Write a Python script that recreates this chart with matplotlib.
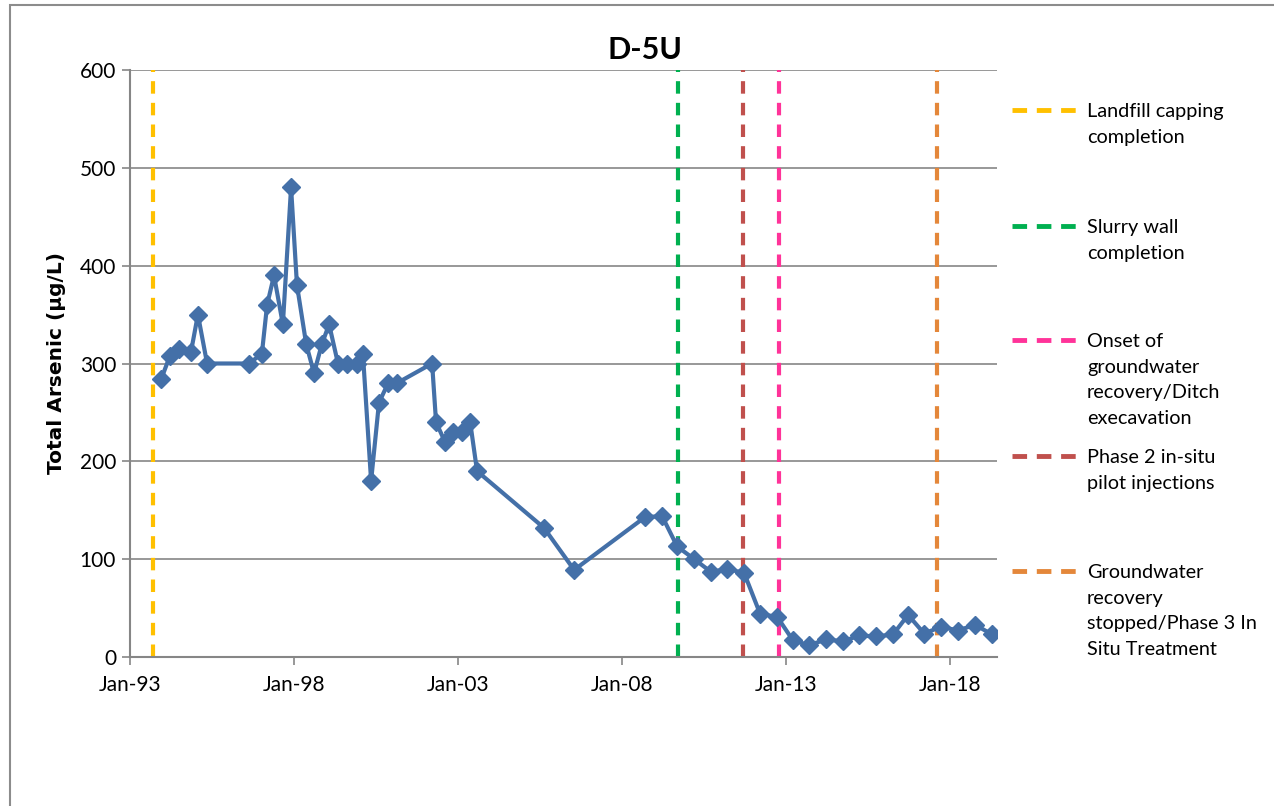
import matplotlib
matplotlib.use("Agg")
import matplotlib.pyplot as plt
from matplotlib.patches import Rectangle

# data (decimal year, total arsenic ug/L)
sample_years = [1993.95, 1994.22, 1994.49, 1994.86, 1995.07, 1995.35, 1996.63,
                1997.02, 1997.18, 1997.39, 1997.66, 1997.91, 1998.09, 1998.37,
                1998.61, 1998.85, 1999.07, 1999.34, 1999.62, 1999.92, 2000.10,
                2000.35, 2000.59, 2000.87, 2001.14, 2002.21, 2002.33, 2002.60,
                2002.85, 2003.12, 2003.37, 2003.58, 2005.62, 2006.54, 2008.70,
                2009.22, 2009.68, 2010.20, 2010.71, 2011.20, 2011.72, 2012.21,
                2012.73, 2013.21, 2013.70, 2014.22, 2014.74, 2015.23, 2015.74,
                2016.26, 2016.72, 2017.21, 2017.73, 2018.24, 2018.76, 2019.28]
arsenic = [284, 308, 315, 312, 350, 300, 300,
           310, 360, 390, 340, 480, 380, 320,
           290, 320, 340, 300, 300, 300, 310,
           180, 260, 280, 280, 300, 240, 220,
           230, 230, 240, 190, 132, 89, 143,
           144, 113, 100, 87, 90, 86, 44,
           41, 17, 12, 18, 16, 22,
           21, 23, 43, 24, 31, 27, 33, 23]

# events in time order
event_years = [1993.70, 2009.71, 2011.69, 2012.79, 2017.60]
event_labels = ["Landfill capping\ncompletion",
                "Slurry wall\ncompletion",
                "Phase 2 in-situ\npilot injections",
                "Onset of\ngroundwater\nrecovery/Ditch\nexecavation",
                "Groundwater\nrecovery\nstopped/Phase 3 In\nSitu Treatment"]
event_colors = ["#FFC000", "#00B050", "#C0504D", "#FF3399", "#E4873A"]
legend_order = [0, 1, 3, 2, 4]

tick_years = [1993, 1998, 2003, 2008, 2013, 2018]
tick_labels = ["Jan-93", "Jan-98", "Jan-03", "Jan-08", "Jan-13", "Jan-18"]

plt.rcParams['font.family'] = ['Lato', 'DejaVu Sans']

fig = plt.figure(figsize=(12.74, 8.06), dpi=100)
ax = fig.add_axes([130/1274, 1 - 657/806, (997-130)/1274, (657-70)/806])

grid_c = "#868686"
for y in range(100, 700, 100):
    ax.axhline(y, color=grid_c, lw=1.2, zorder=1)

for yr, c in zip(event_years, event_colors):
    ax.axvline(yr, color=c, lw=3, ls=(0, (3, 2.2)), zorder=2)

ax.plot(sample_years, arsenic, color="#4470A8", lw=3, marker="D",
        markersize=9, zorder=3)

ax.set_xlim(1993, 2019.43)
ax.set_ylim(0, 600)
ax.set_xticks(tick_years)
ax.set_xticklabels(tick_labels)
ax.set_yticks(range(0, 700, 100))
ax.tick_params(axis='both', labelsize=15, color=grid_c, length=6, width=1.2,
               direction='out')
ax.tick_params(axis='x', pad=7)
ax.tick_params(axis='y', pad=4)
for s in ['top', 'right']:
    ax.spines[s].set_visible(False)
for s in ['left', 'bottom']:
    ax.spines[s].set_color(grid_c)
    ax.spines[s].set_linewidth(1.5)

ax.set_ylabel("Total Arsenic (µg/L)", fontsize=14.5, fontweight='bold',
              family='DejaVu Sans', labelpad=10)
fig.text(645/1274, 1 - 50/806, "D-5U", ha='center', va='center',
         fontsize=22, fontweight='bold')

# legend drawn by hand to match the spacing
legend_y = [110, 226, 340, 456, 571]
for i, ly in zip(legend_order, legend_y):
    fy = 1 - ly/806
    fig.add_artist(plt.Line2D([1012/1274, 1076/1274], [fy, fy],
                              color=event_colors[i], lw=3.5, ls=(0, (3, 2)),
                              transform=fig.transFigure))
    fig.text(1087/1274, fy + 7/806, event_labels[i], ha='left', va='top',
             fontsize=14.3, linespacing=1.62)

fig.add_artist(Rectangle((10/1274, -0.1), 1.2, 1 - 5/806 + 0.1,
                         transform=fig.transFigure, fill=False,
                         edgecolor="#8C8C8C", lw=1.5))

fig.savefig("out.png", dpi=100)
